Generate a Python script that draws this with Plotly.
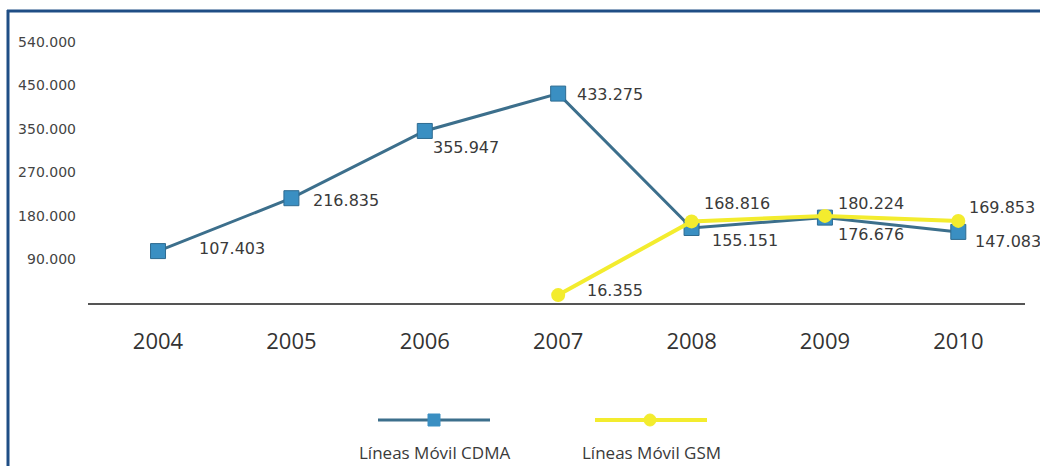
import plotly.graph_objects as go

# Data
years = [2004, 2005, 2006, 2007, 2008, 2009, 2010]
cdma_values = [107403, 216835, 355947, 433275, 155151, 176676, 147083]
gsm_years = [2007, 2008, 2009, 2010]
gsm_values = [16355, 168816, 180224, 169853]
y_tick_values = [90000, 180000, 270000, 360000, 450000, 540000]
y_tick_labels = ["90.000", "180.000", "270.000", "350.000", "450.000", "540.000"]
series_names = ["Líneas Móvil CDMA", "Líneas Móvil GSM"]

# Page geometry
W, H = 1040, 466
ML, MR, MT, MB = 88, 15, 42, 163
PW, PH = W - ML - MR, H - MT - MB


def px_x(x):
    return (x - ML) / PW


def px_y(y):
    return (H - MB - y) / PH


def fmt(v):
    return f"{v / 1000:.3f}"


CDMA_LINE = "#3c6f8c"
CDMA_FILL = "#3a8fc2"
GSM_COLOR = "#f3ec2e"
TEXT = "#3a3a3a"

fig = go.Figure()

fig.add_trace(go.Scatter(
    x=years, y=cdma_values, mode="lines+markers", name=series_names[0],
    line=dict(color=CDMA_LINE, width=3),
    marker=dict(symbol="square", size=15, color=CDMA_FILL,
                line=dict(color="#2e6b91", width=1)),
    cliponaxis=False, showlegend=False,
))
fig.add_trace(go.Scatter(
    x=gsm_years, y=gsm_values, mode="lines+markers", name=series_names[1],
    line=dict(color=GSM_COLOR, width=4),
    marker=dict(symbol="circle", size=14, color=GSM_COLOR),
    cliponaxis=False, showlegend=False,
))

# Value labels: (xshift, yshift) in pixels from each marker
cdma_offsets = [(39, 3), (20, -2), (6, -17), (17, -1), (18, -12), (11, -17), (15, -10)]
gsm_offsets = [(27, 5), (10, 18), (11, 12), (9, 13)]

annotations = []
for x, v, (dx, dy) in zip(years, cdma_values, cdma_offsets):
    annotations.append(dict(x=x, y=v, xref="x", yref="y", text=fmt(v),
                            showarrow=False, xanchor="left", yanchor="middle",
                            xshift=dx, yshift=dy,
                            font=dict(family="DejaVu Sans", size=16, color=TEXT)))
for x, v, (dx, dy) in zip(gsm_years, gsm_values, gsm_offsets):
    annotations.append(dict(x=x, y=v, xref="x", yref="y", text=fmt(v),
                            showarrow=False, xanchor="left", yanchor="middle",
                            xshift=dx, yshift=dy,
                            font=dict(family="DejaVu Sans", size=16, color=TEXT)))

# Legend drawn beneath the chart: line with marker, caption underneath
shapes = []
legend_items = [
    (series_names[0], 378, 490, 434, CDMA_LINE, CDMA_FILL, "rect", 3),
    (series_names[1], 595, 707, 650, GSM_COLOR, GSM_COLOR, "circle", 4),
]
LEG_Y = 420
for name, x0, x1, xm, lc, mc, kind, lw in legend_items:
    shapes.append(dict(type="line", xref="paper", yref="paper",
                       x0=px_x(x0), x1=px_x(x1), y0=px_y(LEG_Y), y1=px_y(LEG_Y),
                       line=dict(color=lc, width=lw)))
    r = 6
    shapes.append(dict(type=kind, xref="paper", yref="paper",
                       x0=px_x(xm - r), x1=px_x(xm + r),
                       y0=px_y(LEG_Y + r), y1=px_y(LEG_Y - r),
                       fillcolor=mc, line=dict(color=mc, width=1)))
    annotations.append(dict(x=px_x((x0 + x1) / 2), y=px_y(452), xref="paper", yref="paper",
                            text=name, showarrow=False, xanchor="center", yanchor="middle",
                            font=dict(family="Open Sans", size=17, color="#3a3a3a")))

# Frame lines along the top and left edges
BORDER = "#1f4e85"
shapes.append(dict(type="line", xref="paper", yref="paper",
                   x0=px_x(7), x1=px_x(W), y0=px_y(11), y1=px_y(11),
                   line=dict(color=BORDER, width=3)))
shapes.append(dict(type="line", xref="paper", yref="paper",
                   x0=px_x(8), x1=px_x(8), y0=px_y(10), y1=px_y(H),
                   line=dict(color=BORDER, width=3)))

fig.update_layout(
    width=W, height=H,
    margin=dict(l=ML, r=MR, t=MT, b=MB),
    paper_bgcolor="white", plot_bgcolor="white",
    annotations=annotations, shapes=shapes,
    showlegend=False,
)
fig.update_xaxes(
    range=[2003.475, 2010.5], tickvals=years, ticktext=[str(y) for y in years],
    showgrid=False, zeroline=False, showline=True, linecolor="#555555", linewidth=2,
    ticks="", ticklabelstandoff=18,
    tickfont=dict(family="Open Sans", size=22, color="#333333"),
)
fig.update_yaxes(
    range=[0, 540000], tickvals=y_tick_values, ticktext=y_tick_labels,
    showgrid=False, zeroline=False, showline=False,
    ticks="", ticklabelstandoff=11,
    tickfont=dict(family="DejaVu Sans", size=14, color="#444444"),
)

fig.write_html("out.html")
